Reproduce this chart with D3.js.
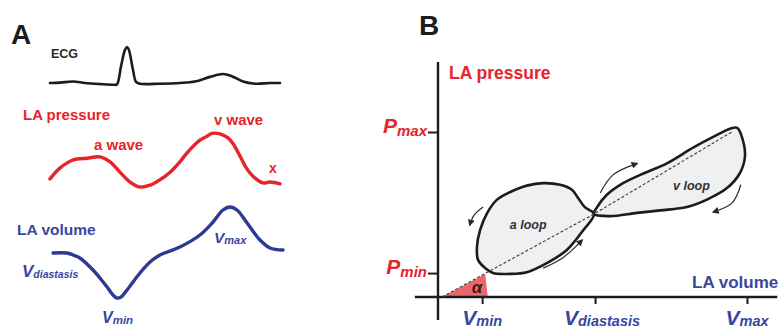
<!DOCTYPE html>
<html>
<head>
<meta charset="utf-8">
<script src="https://cdn.jsdelivr.net/npm/d3@7"></script>
<style>
  html, body { margin: 0; padding: 0; background: #fff; }
  svg { display: block; font-family: "Liberation Sans", Arial, Helvetica, sans-serif; }
</style>
</head>
<body>
<svg id="chart" width="783" height="331"></svg>
<script>
// ---------- Panel A: one cardiac cycle (time in % of cycle) ----------
const ecgT   = [0, 4.3, 10, 15.2, 21.7, 27.8, 29.1, 30.9, 32.6, 33.5, 34.3, 36.1, 37.4, 39.1, 47.8, 56.5, 63, 69.6, 75.2, 79.1, 83.9, 89.1, 95.7, 100];
const ecgAmp = [0, 0.01, 0.04, 0, -0.03, -0.05, -0.04, 0.47, 0.92, 1.0, 0.92, 0.36, 0.03, -0.02, -0.02, 0, 0.04, 0.17, 0.25, 0.19, 0.04, -0.02, 0, 0];

const pressT   = [0, 4.3, 10, 16.1, 21.7, 26.1, 30.4, 34.8, 39.1, 43.5, 47.8, 52.2, 56.5, 59.6, 65.2, 68.3, 70.4, 73.9, 77.4, 79.6, 82.6, 84.8, 87.0, 89.6, 92.6, 95.7, 100];
const pressVal = [5.8, 8.2, 10.0, 10.4, 10.7, 9.6, 7.3, 5.1, 4.0, 4.4, 5.6, 7.3, 9.6, 11.6, 14.4, 15.3, 15.9, 15.8, 14.9, 13.6, 10.9, 8.7, 7.1, 5.8, 4.9, 5.1, 4.7];

const volT   = [1.3, 7.4, 10.0, 13.0, 18.7, 21.7, 24.8, 27.4, 29.1, 30.9, 33.5, 39.1, 43.5, 47.8, 56.5, 65.2, 70.9, 75.2, 78.3, 81.3, 85.7, 91.3, 95.7, 101.3];
const volVal = [42, 42, 41, 39.5, 33.5, 29.5, 25, 21, 19.5, 20, 23.5, 32, 37.5, 41, 45, 51, 57.5, 63.5, 65, 63.5, 57, 48.5, 44.5, 43.5];

// ---------- Panel B: pressure-volume loop (arbitrary units) ----------
const aLoopVol   = [30.2, 28.4, 27.1, 25.9, 23.6, 20.3, 17.1, 13.8, 11.3, 9.4, 8.0, 7.4, 7.6, 9.0, 10.5, 13.8, 17.1, 21.0, 24.9, 28.1];
const aLoopPress = [10.06, 10.9, 12.0, 13.0, 13.6, 13.8, 13.5, 12.7, 11.8, 10.2, 8.1, 6.1, 4.5, 3.5, 2.9, 2.8, 3.0, 4.1, 5.7, 8.1];

const vLoopVol   = [30.2, 30.8, 32.7, 35.3, 39.2, 44.4, 49.5, 53.4, 56.7, 58.1, 59.2, 59.6, 58.6, 56.1, 52.2, 48.3, 43.1, 38.6, 33.3];
const vLoopPress = [10.06, 10.9, 12.4, 13.6, 14.8, 16.2, 18.1, 19.4, 20.4, 20.5, 19.0, 17.0, 15.0, 13.2, 11.8, 10.9, 10.5, 10.2, 9.8];

// stiffness line through the loops, and the angle wedge at the origin
const stiffVol   = [0.6, 30.2, 57.3];
const stiffPress = [0, 10.06, 20.1];
const alphaVol   = [0.6, 9.0, 9.5];
const alphaPress = [0, 2.8, 0];

// direction arrows along the loops
const arrowVol   = [[8.6, 6.8, 6.0], [20.3, 24.2, 27.9], [31.4, 33.9, 38.6], [58.8, 57.1, 53.4]];
const arrowPress = [[10.9, 9.9, 8.7], [3.5, 4.8, 6.9], [12.6, 14.8, 16.2], [13.6, 11.4, 10.3]];

const volTicks      = [8.4, 30.4, 60];
const volTickSubs   = ["min", "diastasis", "max"];
const pressTicks    = [2.9, 20];
const pressTickSubs = ["min", "max"];

const RED = "#e8232b";
const BLUE_TEXT = "#3a469f";
const BLUE_LINE = "#2d3a93";
const INK = "#1c1c1c";

const svg = d3.select("#chart");
const zip = (a, b) => a.map((v, i) => [v, b[i]]);

// text with a subscript, e.g. V_min
function subLabel(g, x, y, main, sub, mainSize, subSize, color, anchor, subDy) {
  const t = g.append("text")
    .attr("x", x).attr("y", y)
    .attr("text-anchor", anchor)
    .attr("font-weight", "bold")
    .attr("font-style", "italic")
    .attr("fill", color);
  t.append("tspan").attr("font-size", mainSize).text(main);
  t.append("tspan").attr("font-size", subSize).attr("dy", subDy).text(sub);
  return t;
}

function plainLabel(g, x, y, txt, size, color, opts = {}) {
  return g.append("text")
    .attr("x", x).attr("y", y)
    .attr("font-size", size)
    .attr("font-weight", "bold")
    .attr("font-style", opts.italic ? "italic" : "normal")
    .attr("text-anchor", opts.anchor || "start")
    .attr("fill", color)
    .text(txt);
}

// ===================== Panel A =====================
const gA = svg.append("g");
const xA = d3.scaleLinear().domain([0, 100]).range([50, 280]);
const yEcg = d3.scaleLinear().domain([0, 1]).range([83, 47]);
const yPress = d3.scaleLinear().domain([4, 16]).range([187, 133]);
const yVol = d3.scaleLinear().domain([20, 65]).range([297, 207]);

function trace(ys) {
  return d3.line().x(d => xA(d[0])).y(d => ys(d[1])).curve(d3.curveCatmullRom.alpha(0.5));
}

gA.append("path").datum(zip(ecgT, ecgAmp))
  .attr("d", trace(yEcg)).attr("fill", "none")
  .attr("stroke", INK).attr("stroke-width", 2.6)
  .attr("stroke-linejoin", "round").attr("stroke-linecap", "round");

gA.append("path").datum(zip(pressT, pressVal))
  .attr("d", trace(yPress)).attr("fill", "none")
  .attr("stroke", RED).attr("stroke-width", 3.4)
  .attr("stroke-linejoin", "round").attr("stroke-linecap", "round");

gA.append("path").datum(zip(volT, volVal))
  .attr("d", trace(yVol)).attr("fill", "none")
  .attr("stroke", BLUE_LINE).attr("stroke-width", 3.4)
  .attr("stroke-linejoin", "round").attr("stroke-linecap", "round");

plainLabel(gA, 11, 44, "A", 28, INK);
plainLabel(gA, 51, 58, "ECG", 12.5, "#2a2a2a");
plainLabel(gA, 23, 120, "LA pressure", 15, RED);
plainLabel(gA, 94, 150, "a wave", 15, RED);
plainLabel(gA, 214, 125, "v wave", 15, RED);
plainLabel(gA, 269, 173, "x", 14, RED);
plainLabel(gA, 17, 235, "LA volume", 15.5, BLUE_TEXT);
subLabel(gA, 22, 277, "V", "diastasis", 17, 10.5, BLUE_TEXT, "start", 1);
subLabel(gA, 102, 323, "V", "min", 16, 11.5, BLUE_TEXT, "start", 1);
subLabel(gA, 214, 243, "V", "max", 15.5, 11, BLUE_TEXT, "start", 1);

// ===================== Panel B =====================
const gB = svg.append("g");
const xB = d3.scaleLinear().domain([0, 60]).range([439, 747]);
const yB = d3.scaleLinear().domain([0, 20]).range([297, 132]);

// angle wedge
gB.append("path")
  .datum(zip(alphaVol, alphaPress))
  .attr("d", d3.line().x(d => xB(d[0])).y(d => yB(d[1])))
  .attr("fill", "#e9676d");

// axes
gB.append("line")
  .attr("x1", xB(0) - 1).attr("x2", xB(0) - 1)
  .attr("y1", yB(28.5)).attr("y2", yB(-2.8))
  .attr("stroke", INK).attr("stroke-width", 2.4);
gB.append("line")
  .attr("x1", xB(-4.7)).attr("x2", xB(65.9))
  .attr("y1", yB(0)).attr("y2", yB(0))
  .attr("stroke", INK).attr("stroke-width", 2.4);

const xAxis = gB.append("g")
  .attr("transform", `translate(0,${yB(0)})`)
  .call(d3.axisBottom(xB).tickValues(volTicks).tickSize(7).tickFormat(""));
xAxis.select(".domain").remove();
xAxis.selectAll(".tick line").attr("stroke", INK).attr("stroke-width", 2);

const yAxis = gB.append("g")
  .attr("transform", `translate(${xB(0) - 1},0)`)
  .call(d3.axisLeft(yB).tickValues(pressTicks).tickSize(10).tickFormat(""));
yAxis.select(".domain").remove();
yAxis.selectAll(".tick line").attr("stroke", INK).attr("stroke-width", 2);

// loops
const loopLine = d3.line().x(d => xB(d[0])).y(d => yB(d[1])).curve(d3.curveCatmullRomClosed.alpha(0.5));
[[aLoopVol, aLoopPress], [vLoopVol, vLoopPress]].forEach(([v, p]) => {
  gB.append("path").datum(zip(v, p))
    .attr("d", loopLine)
    .attr("fill", "#eef0f2")
    .attr("stroke", INK).attr("stroke-width", 2.6)
    .attr("stroke-linejoin", "round");
});

// stiffness line
gB.append("path")
  .datum(zip(stiffVol, stiffPress))
  .attr("d", d3.line().x(d => xB(d[0])).y(d => yB(d[1])))
  .attr("fill", "none")
  .attr("stroke", "#3a3a3a").attr("stroke-width", 1.1)
  .attr("stroke-dasharray", "3,2");

// arrows
svg.append("defs").append("marker")
  .attr("id", "head").attr("viewBox", "0 0 10 10")
  .attr("refX", 8).attr("refY", 5)
  .attr("markerWidth", 7).attr("markerHeight", 7)
  .attr("markerUnits", "userSpaceOnUse")
  .attr("orient", "auto")
  .append("path").attr("d", "M0,0 L10,5 L0,10 Z").attr("fill", "#2a2a2a");

const arrowLine = d3.line().x(d => xB(d[0])).y(d => yB(d[1])).curve(d3.curveCatmullRom.alpha(0.5));
arrowVol.forEach((v, i) => {
  gB.append("path").datum(zip(v, arrowPress[i]))
    .attr("d", arrowLine)
    .attr("fill", "none")
    .attr("stroke", "#2a2a2a").attr("stroke-width", 1.2)
    .attr("marker-end", "url(#head)");
});

// labels
plainLabel(gB, 419, 35, "B", 28, INK);
plainLabel(gB, 449, 79, "LA pressure", 17.5, RED);
plainLabel(gB, 692, 288, "LA volume", 17, BLUE_TEXT);
plainLabel(gB, xB(13.8), yB(8.2), "a loop", 12.5, "#333", { italic: true });
plainLabel(gB, xB(45.6), yB(13.0), "v loop", 12.5, "#333", { italic: true });
plainLabel(gB, xB(7.4), 293, "α", 17, "#3a2020", { italic: true, anchor: "middle" });

pressTicks.forEach((p, i) => {
  subLabel(gB, 427, yB(p) + 1, "P", pressTickSubs[i], 21, 15, RED, "end", 3);
});
volTicks.forEach((v, i) => {
  subLabel(gB, xB(v) + (i === 1 ? 7 : 0), 325, "V", volTickSubs[i], 21, 14.5, BLUE_TEXT, "middle", 1);
});
</script>
</body>
</html>
